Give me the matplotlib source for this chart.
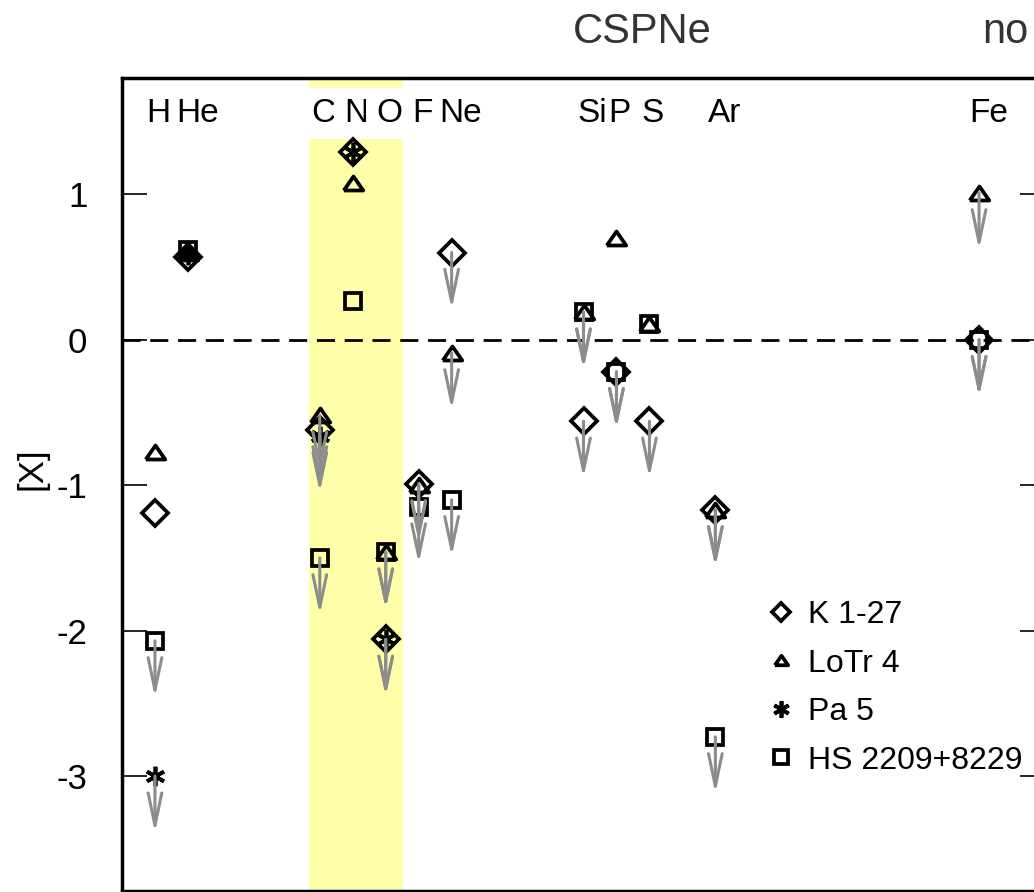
import matplotlib
matplotlib.use("Agg")
import matplotlib.pyplot as plt
from matplotlib.lines import Line2D

# element positions (atomic number) and labels
elem_names = ["H", "He", "C", "N", "O", "F", "Ne", "Si", "P", "S", "Ar", "Fe"]
elem_z = [1, 2, 6, 7, 8, 9, 10, 14, 15, 16, 18, 26]

# K 1-27 (diamond)
k127_z = [1, 2, 6, 7, 8, 9, 10, 14, 15, 16, 18, 26]
k127_val = [-1.19, 0.57, -0.62, 1.29, -2.06, -0.99, 0.60, -0.56, -0.22, -0.56, -1.17, 0.0]
k127_lim = [0, 0, 1, 0, 1, 1, 1, 1, 1, 1, 1, 1]

# LoTr 4 (triangle)
lotr4_z = [1, 2, 6, 7, 8, 9, 10, 14, 15, 16, 18, 26]
lotr4_val = [-0.77, 0.60, -0.52, 1.08, -1.46, -1.0, -0.09, 0.19, 0.70, 0.11, -1.17, 1.01]
lotr4_lim = [0, 0, 1, 0, 1, 1, 1, 1, 0, 0, 1, 1]

# Pa 5 (asterisk)
pa5_z = [1, 2, 6, 7, 8]
pa5_val = [-3.0, 0.58, -0.66, 1.29, -2.06]
pa5_lim = [1, 0, 1, 0, 1]

# HS 2209+8229 (square)
hs_z = [1, 2, 6, 7, 8, 9, 10, 14, 15, 16, 18, 26]
hs_val = [-2.07, 0.62, -1.50, 0.27, -1.46, -1.15, -1.10, 0.19, -0.22, 0.11, -2.73, 0.0]
hs_lim = [1, 0, 1, 0, 1, 1, 1, 1, 1, 0, 1, 1]

tri = [(-1, -0.72), (1, -0.72), (0, 0.72), (-1, -0.72)]
stars = [
    ("K 1-27", k127_z, k127_val, k127_lim, "D", 13, 0.72),
    ("LoTr 4", lotr4_z, lotr4_val, lotr4_lim, tri, 14, 0.68),
    ("Pa 5", pa5_z, pa5_val, pa5_lim, (6, 2, 0), 14, 0.85),
    ("HS 2209+8229", hs_z, hs_val, hs_lim, "s", 11.5, 0.85),
]

narrow = ["Liberation Sans Narrow", "Liberation Sans", "DejaVu Sans"]
plt.rcParams["font.family"] = ["Liberation Sans", "DejaVu Sans"]

fig = plt.figure(figsize=(10.34, 8.92), dpi=100)
ax = fig.add_axes([122 / 1034, 1 / 892, (1045 - 122) / 1034, (891 - 78) / 892])
ax.set_xlim(0, 28)
ax.set_ylim(-3.79, 1.80)

band = (5.67, 8.52)
ax.axvspan(band[0], band[1], color="#ffffaa", lw=0, zorder=0)
ax.axhline(0, color="k", lw=2, ls=(0, (6.5, 3.5)), zorder=1)

handles = []
for name, zz, vv, ll, mk, ms, lscale in stars:
    ax.plot(zz, vv, ls="none", marker=mk, ms=ms, mec="k", mfc="none", mew=2.7, zorder=3)
    for z, v, lim in zip(zz, vv, ll):
        if lim:
            ax.annotate("", xy=(z, v - 0.39), xytext=(z, v),
                        arrowprops=dict(arrowstyle="->,head_length=1.8,head_width=0.38",
                                        color="#8c8c8c", lw=2.2, shrinkA=0, shrinkB=0,
                                        mutation_scale=13), zorder=4)
    handles.append(Line2D([], [], ls="none", marker=mk, ms=ms * lscale, mec="k",
                          mfc="none", mew=2.7, label=name))

for nm, z in zip(elem_names, elem_z):
    off = 0.28 if len(nm) > 1 else 0.1
    box = None
    if band[0] < z < band[1]:
        box = dict(boxstyle="square,pad=0.3", fc="white", ec="none")
    ax.text(z + off, 1.5, nm, ha="center", va="baseline", fontsize=24, family=narrow,
            zorder=2, bbox=box)

ax.legend(handles=handles, loc="upper left", bbox_to_anchor=(768 / 1034, 1 - 600 / 892),
          bbox_transform=fig.transFigure, frameon=False, prop={"family": narrow, "size": 23},
          handlelength=0.8, handletextpad=0.45, labelspacing=0.58, borderpad=0, borderaxespad=0)

ax.set_xticks([])
ax.set_yticks([1, 0, -1, -2, -3])
ax.set_yticklabels(["1", "0", "-1", "-2", "-3"])
ax.tick_params(axis="y", direction="in", length=18, width=1.2, pad=25, labelsize=25,
               right=True)
for s in ax.spines.values():
    s.set_linewidth(2.5)
ax.set_ylabel("[X]", fontsize=25)
ax.yaxis.set_label_coords(-0.08, 0.52)

fig.text(642 / 1034, 1 - 43 / 892, "CSPNe", ha="center", va="baseline", fontsize=30, color="#333333")
fig.text(1005 / 1034, 1 - 43 / 892, "no", ha="center", va="baseline", fontsize=30, color="#333333")

fig.savefig("out.png", dpi=100)
